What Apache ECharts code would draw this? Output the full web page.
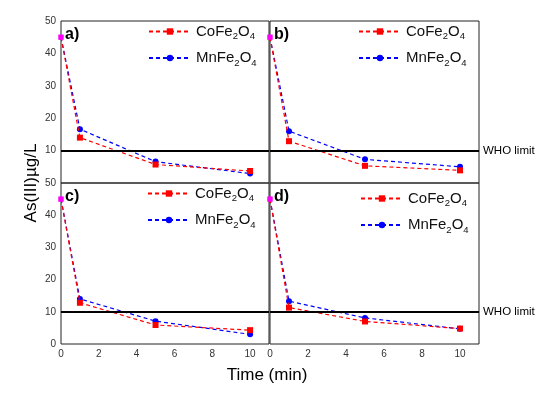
<!DOCTYPE html>
<html><head><meta charset="utf-8">
<script src="https://cdn.jsdelivr.net/npm/echarts@6/dist/echarts.min.js"></script>
<style>html,body{margin:0;padding:0;background:#fff}#c{width:550px;height:396px}</style>
</head><body><div id="c"></div>
<script>
var time = [0, 1, 5, 10];
var coA = [45, 14.0, 5.7, 3.7];
var mnA = [45, 16.6, 6.6, 2.9];
var coB = [45, 12.9, 5.3, 3.9];
var mnB = [45, 16.0, 7.3, 5.0];
var coC = [45, 12.8, 5.9, 4.3];
var mnC = [45, 14.0, 7.1, 3.0];
var coD = [45, 11.3, 7.0, 4.8];
var mnD = [45, 13.3, 8.1, 4.7];
var panelLabels = ['a)', 'b)', 'c)', 'd)'];
var whoLimit = 10;
var xTicks = [0, 2, 4, 6, 8, 10];
var yTicks = [0, 10, 20, 30, 40, 50];

var FONT = 'Arial, "Liberation Sans", sans-serif';
var grids = [
  {left: 61, top: 21, width: 208, height: 162},
  {left: 270, top: 21, width: 209, height: 162},
  {left: 61, top: 183, width: 208, height: 161},
  {left: 270, top: 183, width: 209, height: 161}
];
var coSets = [coA, coB, coC, coD];
var mnSets = [mnA, mnB, mnC, mnD];
var legendPos = [
  {left: 148, top: 24}, {left: 358, top: 24}, {left: 147, top: 186}, {left: 360, top: 191}
];

function pairs(arr) {
  return time.map(function (t, k) {
    var d = {value: [t, arr[k]]};
    if (k === 0) { d.itemStyle = {color: '#ff00ff'}; d.symbol = 'rect'; d.symbolSize = 5; }
    return d;
  });
}

var xAxes = [], yAxes = [], series = [], legends = [], gridOpts = [], graphics = [];
grids.forEach(function (g, i) {
  gridOpts.push({left: g.left, top: g.top, width: g.width, height: g.height, show: true,
    borderColor: '#222', borderWidth: 1, containLabel: false});
  var bottom = i >= 2, left = (i % 2 === 0);
  xAxes.push({type: 'value', gridIndex: i, min: 0, max: 11, interval: xTicks[1] - xTicks[0],
    axisLine: {show: false}, axisTick: {show: false}, splitLine: {show: false},
    axisLabel: {show: bottom, showMaxLabel: false, color: '#333', fontSize: 10, fontFamily: FONT, margin: 5}});
  yAxes.push({type: 'value', gridIndex: i, min: yTicks[0], max: yTicks[yTicks.length - 1], interval: yTicks[1] - yTicks[0],
    axisLine: {show: false}, axisTick: {show: false}, splitLine: {show: false},
    axisLabel: {show: left, showMinLabel: bottom, color: '#333', fontSize: 10, fontFamily: FONT, margin: 5}});
  series.push({name: 'CoFe2O4', type: 'line', xAxisIndex: i, yAxisIndex: i, data: pairs(coSets[i]),
    symbol: 'rect', symbolSize: 6, color: '#ff0000',
    lineStyle: {color: '#ff0000', type: [4, 3], width: 1.2}, itemStyle: {color: '#ff0000'}, z: 3,
    markLine: {silent: true, symbol: 'none', animation: false,
      lineStyle: {color: '#000', type: 'solid', width: 2},
      label: {show: !left, position: 'end', formatter: 'WHO limit', color: '#000', fontSize: 11.5, fontFamily: FONT, distance: 4},
      data: [{yAxis: whoLimit}]}});
  series.push({name: 'MnFe2O4', type: 'line', xAxisIndex: i, yAxisIndex: i, data: pairs(mnSets[i]),
    symbol: 'circle', symbolSize: 6, color: '#0000ff',
    lineStyle: {color: '#0000ff', type: [4, 3], width: 1.2}, itemStyle: {color: '#0000ff'}, z: 2});
  legends.push({left: legendPos[i].left, top: legendPos[i].top, orient: 'vertical', itemGap: 9,
    itemWidth: 42, itemHeight: 8, selectedMode: false, padding: 0,
    data: ['CoFe2O4', 'MnFe2O4'],
    formatter: function (n) { return n === 'CoFe2O4' ? '{n|CoFe}{s|2}{n|O}{s|4}' : '{n|MnFe}{s|2}{n|O}{s|4}'; },
    textStyle: {rich: {
      n: {fontSize: 15, fontFamily: FONT, color: '#111', lineHeight: 20, verticalAlign: 'middle'},
      s: {fontSize: 9.5, fontFamily: FONT, color: '#111', lineHeight: 20, verticalAlign: 'bottom'}
    }}});
  graphics.push({type: 'text', left: g.left + 4, top: g.top + 6,
    style: {text: panelLabels[i], font: 'bold 16px ' + FONT, fill: '#000'}});
});
graphics.push({type: 'text', x: 31, y: 183, rotation: Math.PI / 2,
  style: {text: 'As(III)µg/L', font: '17px ' + FONT, fill: '#000', textAlign: 'center', textVerticalAlign: 'middle'}});
graphics.push({type: 'text', x: 267, y: 375,
  style: {text: 'Time (min)', font: '17px ' + FONT, fill: '#000', textAlign: 'center', textVerticalAlign: 'middle'}});

var chart = echarts.init(document.getElementById('c'), null, {renderer: 'canvas'});
chart.setOption({
  animation: false,
  backgroundColor: '#fff',
  grid: gridOpts, xAxis: xAxes, yAxis: yAxes, series: series, legend: legends, graphic: graphics
});
</script></body></html>
